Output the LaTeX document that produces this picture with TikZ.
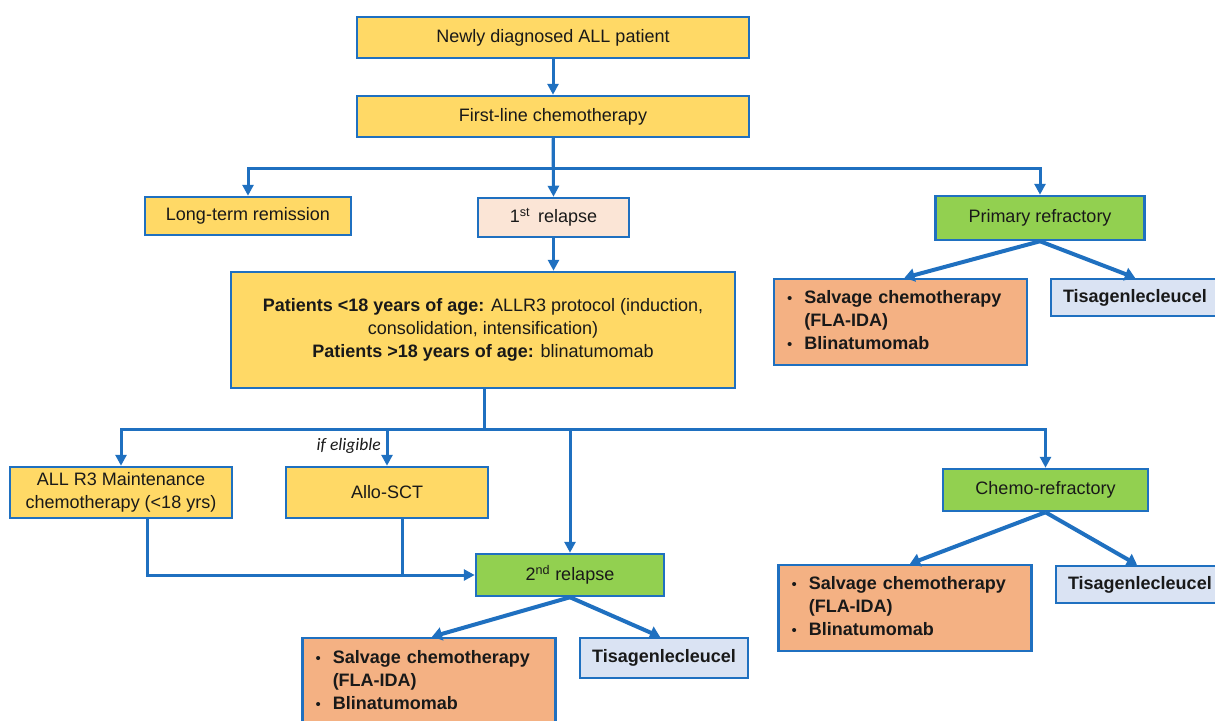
\documentclass[tikz,border=0pt]{standalone}
\usepackage{fontspec}
\setmainfont{Liberation Sans}
\newfontfamily\calibri{Carlito}
\usetikzlibrary{arrows.meta,calc}

\definecolor{flowblue}{RGB}{31,112,192}
\definecolor{boxyellow}{RGB}{255,217,102}
\definecolor{boxgreen}{RGB}{146,208,80}
\definecolor{boxpeach}{RGB}{251,229,214}
\definecolor{boxorange}{RGB}{244,177,131}
\definecolor{boxblue}{RGB}{218,227,243}
\definecolor{inktext}{RGB}{25,25,25}

\newcommand{\smallbullet}{{\normalfont\fontsize{15}{15}\selectfont\textbullet}}
\newcommand{\salvagelist}{%
  \begin{tabular}{@{}l@{\hspace{12pt}}l@{}}
  \smallbullet & Salvage chemotherapy\\
               & (FLA-IDA)\\
  \smallbullet & Blinatumomab
  \end{tabular}}

\begin{document}
\begin{tikzpicture}[x=1pt,y=-1pt,
  box/.style={draw=flowblue, line width=2.5pt, rectangle, inner sep=0pt,
    align=center, text=inktext, font=\fontsize{18}{23}\selectfont},
  ylw/.style={box, fill=boxyellow},
  grn/.style={box, fill=boxgreen},
  peach/.style={box, fill=boxpeach},
  salv/.style={box, fill=boxorange, minimum width=253pt, minimum height=86pt,
    inner xsep=13pt, text width=227pt, align=left,
    font=\fontsize{18}{23}\selectfont\bfseries},
  tisa/.style={box, fill=boxblue, minimum height=37pt,
    font=\fontsize{18}{23}\selectfont\bfseries},
  link/.style={draw=flowblue, line width=3pt, -{Triangle[length=11pt,width=11pt]}},
  plain/.style={draw=flowblue, line width=3pt},
  diag/.style={draw=flowblue, line width=4pt, -{Triangle[length=10pt,width=13pt]}},
]
\clip (0,0) rectangle (1215,720);
\fill[white] (0,0) rectangle (1215,720);

% top of the tree
\node[ylw, minimum width=392pt, minimum height=41pt] (new) at (553,37.5) {Newly diagnosed ALL patient};
\node[ylw, minimum width=392pt, minimum height=41pt] (first) at (553,116.5) {First-line chemotherapy};

\node[ylw, minimum width=206pt, minimum height=38pt] (lt) at (248,216) {Long-term remission};
\node[peach, minimum width=151pt, minimum height=39pt] (r1) at (553.5,217.5) {1\textsuperscript{st}\, relapse};
\node[grn, minimum width=209pt, minimum height=44pt] (pr) at (1040,218) {Primary refractory};

\node[ylw, minimum width=504pt, minimum height=116pt] (big) at (483,330)
  {{\bfseries Patients <18 years of age:} ALLR3 protocol (induction,\\
   consolidation, intensification)\\
   {\bfseries Patients >18 years of age:} blinatumomab};

\node[salv] (sal1) at (900.5,322) {\salvagelist};
\node[tisa, minimum width=180pt, text width=156pt, align=left, inner xsep=12pt] (tis1) at (1141,297.5) {Tisagenlecleucel};

% second level
\node[ylw, minimum width=222pt, minimum height=51pt] (m3) at (121,492.5) {ALL R3 Maintenance\\chemotherapy (<18 yrs)};
\node[ylw, minimum width=202pt, minimum height=51pt] (allo) at (387,492.5) {Allo-SCT};
\node[grn, minimum width=188pt, minimum height=42pt] (r2) at (570,575) {2\textsuperscript{nd} relapse};
\node[grn, minimum width=205pt, minimum height=42pt] (cr) at (1045.5,490) {Chemo-refractory};

\node[salv] (sal2) at (905,608) {\salvagelist};
\node[tisa, minimum width=180pt, text width=156pt, align=left, inner xsep=12pt] (tis2) at (1146,584.5) {Tisagenlecleucel};

\node[salv, minimum height=88pt] (sal3) at (429,682) {\salvagelist};
\node[tisa, minimum width=168pt, minimum height=40pt] (tis3) at (664,658) {Tisagenlecleucel};

\node[font=\calibri\itshape\fontsize{17.5}{20}\selectfont, text=inktext, anchor=east, inner sep=0pt]
  (elig) at (381,446) {if eligible};

% connectors, first level
\draw[link] (new) -- (first);
\coordinate (fork1) at ($(first.south)+(0,30)$);
\draw[link] (first.south) -- (r1.north);
\draw[link] (first.south) -- (fork1) -| (lt.north);
\draw[link] (first.south) -- (fork1) -| (pr.north);
\draw[link] (r1) -- (big.north -| r1.south);

% connectors, second level
\coordinate (fork2) at ($(big.south)+(1,40)$);
\draw[link] ($(big.south)+(1,0)$) -- (fork2) -| (m3.north);
\draw[link] ($(big.south)+(1,0)$) -- (fork2) -| (allo.north);
\draw[link] ($(big.south)+(1,0)$) -- (fork2) -| (r2.north);
\draw[link] ($(big.south)+(1,0)$) -- (fork2) -| (cr.north);

\coordinate (mout) at ($(m3.south)+(26,0)$);
\coordinate (aout) at ($(allo.south)+(15,0)$);
\draw[link] (mout) |- (r2.west);
\draw[plain] (aout) -- (aout |- r2.west);

% branching arrows
\draw[diag] (pr.south) -- ($(sal1.north)+(4,0)$);
\draw[diag] (pr.south) -- ($(tis1.north)+(-6,0)$);
\draw[diag] (cr.south) -- ($(sal2.north)+(5,0)$);
\draw[diag] (cr.south) -- ($(tis2.north)+(-9,0)$);
\draw[diag] (r2.south) -- ($(sal3.north)+(3,0)$);
\draw[diag] (r2.south) -- ($(tis3.north)+(-4,0)$);
\end{tikzpicture}
\end{document}
